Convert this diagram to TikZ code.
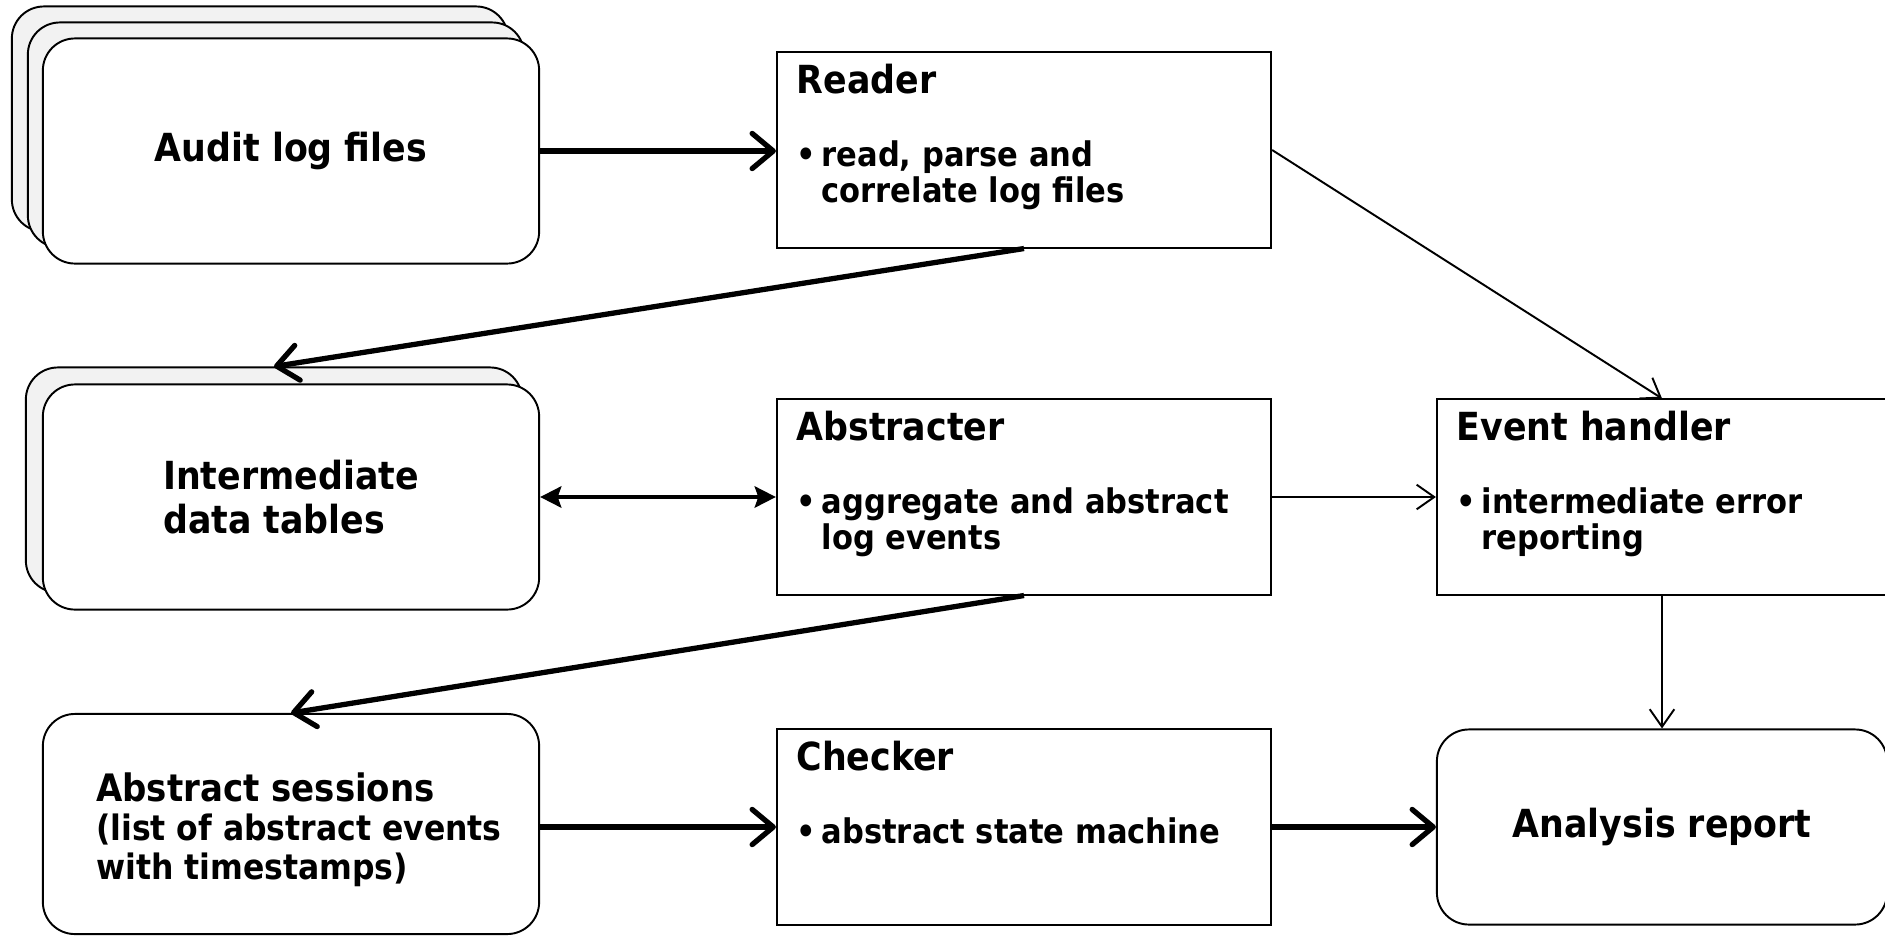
\documentclass[tikz,border=0pt]{standalone}
\usepackage{fontspec}
\setmainfont{DejaVu Sans Condensed}
\usetikzlibrary{arrows.meta,positioning}

\newcommand{\titlesize}{\bfseries\fontsize{11}{12.4}\selectfont}
\newcommand{\itemsize}{\bfseries\fontsize{9.65}{9.6}\selectfont}
\newcommand{\bulleted}[1]{\begin{tabular}[t]{@{}l@{\,}l@{}}\textbullet & #1\end{tabular}}

\tikzset{
  store/.style={draw, line width=0.55pt, rounded corners=0.32cm, fill=white,
    minimum width=4.96cm, minimum height=2.25cm, align=left, font=\titlesize},
  storeback/.style={store, fill=black!5},
  proc/.style={draw, line width=0.55pt, minimum width=4.94cm, minimum height=1.95cm},
  proctitle/.style={anchor=base west, inner sep=0pt, font=\titlesize},
  procitem/.style={anchor=base west, inner sep=0pt, font=\itemsize},
  fat/.style={line width=1.5pt, -{Straight Barb[round,length=6pt,width=10pt]}},
  slim/.style={line width=0.55pt, -{Straight Barb[length=5pt,width=7pt]}},
  both/.style={line width=1.2pt,
    {Stealth[length=6pt,width=6pt,inset=1pt]}-{Stealth[length=6pt,width=6pt,inset=1pt]}},
}

\begin{document}
\begin{tikzpicture}[x=0.01cm, y=-0.01cm]
   \clip (0,0) rectangle (1885,936);

   % stores on the left
   \node[storeback] (audit3) at (260,119) {};
   \node[storeback] (audit2) at (276,135) {};
   \node[store] (audit) at (291,151) {Audit log files};

   \node[storeback] (inter2) at (274,480) {};
   \node[store] (inter) at (291,497) {Intermediate\\data tables};

   \node[store, minimum height=2.2cm] (sessions) at (291,824) {};
   \node[font=\bfseries\fontsize{9.95}{11}\selectfont, inner sep=0pt] (sessionstext)
     at ([xshift=0.08cm,yshift=-0.08cm]sessions.center)
     {\begin{tabular}{@{}l@{}}{\fontsize{10.75}{12}\selectfont Abstract sessions}\\(list of abstract events\\with timestamps)\end{tabular}};

   % processing steps
   \node[proc] (reader) at (1024,150) {};
   \node[proctitle] (readertitle) at ([xshift=0.2cm,yshift=-0.42cm]reader.north west) {Reader};
   \node[procitem] (readeritem) at ([xshift=0.2cm,yshift=-1.15cm]reader.north west)
     {\bulleted{read, parse and\\ & correlate log files}};

   \node[proc] (abstracter) at (1024,497) {};
   \node[proctitle] (abstractertitle) at ([xshift=0.2cm,yshift=-0.42cm]abstracter.north west) {Abstracter};
   \node[procitem] (abstracteritem) at ([xshift=0.2cm,yshift=-1.15cm]abstracter.north west)
     {\bulleted{aggregate and abstract\\ & log events}};

   \node[proc] (checker) at (1024,827) {};
   \node[proctitle] (checkertitle) at ([xshift=0.2cm,yshift=-0.42cm]checker.north west) {Checker};
   \node[procitem] (checkeritem) at ([xshift=0.2cm,yshift=-1.15cm]checker.north west)
     {\bulleted{abstract state machine}};

   \node[proc, minimum width=4.5cm] (event) at (1662,497) {};
   \node[proctitle] (eventtitle) at ([xshift=0.2cm,yshift=-0.42cm]event.north west) {Event handler};
   \node[procitem] (eventitem) at ([xshift=0.2cm,yshift=-1.15cm]event.north west)
     {\bulleted{intermediate error\\ & reporting}};

   \node[store, minimum width=4.5cm, minimum height=1.95cm] (report) at (1662,827) {Analysis report};

   % data flow
   \draw[fat] (audit.east) -- (audit.east -| reader.west);
   \draw[fat] (reader.south) -- (inter2.north);
   \draw[slim] (reader.east) -- (event.north);
   \draw[both] (inter.east) -- (inter.east -| abstracter.west);
   \draw[slim] (abstracter) -- (event);
   \draw[fat] (abstracter.south) -- (sessions.north);
   \draw[slim] (event) -- (report);
   \draw[fat] (sessions.east |- checker.west) -- (checker.west);
   \draw[fat] (checker) -- (report);
\end{tikzpicture}
\end{document}
